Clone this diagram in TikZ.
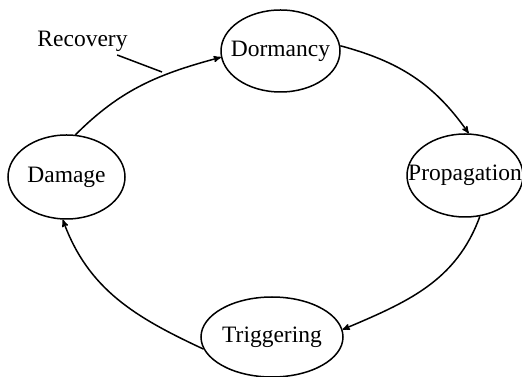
\documentclass[tikz,border=0pt]{standalone}
\usepackage{fontspec}
\setmainfont{Liberation Serif}
\usepackage{tikz}
\usetikzlibrary{arrows}
\usetikzlibrary{shapes.geometric}

\begin{document}
\begin{tikzpicture}[->,>=stealth',shorten >=0pt,auto,x=1pt,y=1pt,line width=1.5pt,main node/.style={ellipse,draw,font=\fontsize{23.5}{28}\selectfont, inner xsep=-18pt, inner ysep=0pt}, note node/.style={font=\fontsize{23.5}{28}\selectfont, inner sep=3pt}]

  \useasboundingbox (0,0) rectangle (522,377);

  \node[main node, minimum width=117pt, minimum height=84pt] (Damage) at (66.5,200) {Damage};
  \node[main node, minimum width=119pt, minimum height=82pt] (Dormancy) at (280.5,326) {Dormancy};
  \node[main node, minimum width=116pt, minimum height=83pt] (Propagation) at (465,201.5) {Propagation};
  \node[main node, minimum width=142pt, minimum height=80pt] (Triggering) at (272,40) {Triggering};
  \node[note node] (Recovery) at (82.5,336) {Recovery};
  \coordinate (recend) at (162,305);

  \path[->]
       (Damage.78) edge[out=45,in=195] (Dormancy.186)
       (Dormancy.5) edge[out=-15,in=125] (Propagation.85)
       (Propagation.-70) edge[out=-110,in=23] (Triggering.6)
       (Triggering.190) edge[out=155,in=-70] (Damage.-95);

  \path[-]
       (Recovery.-22) edge (recend);
\end{tikzpicture}
\end{document}
